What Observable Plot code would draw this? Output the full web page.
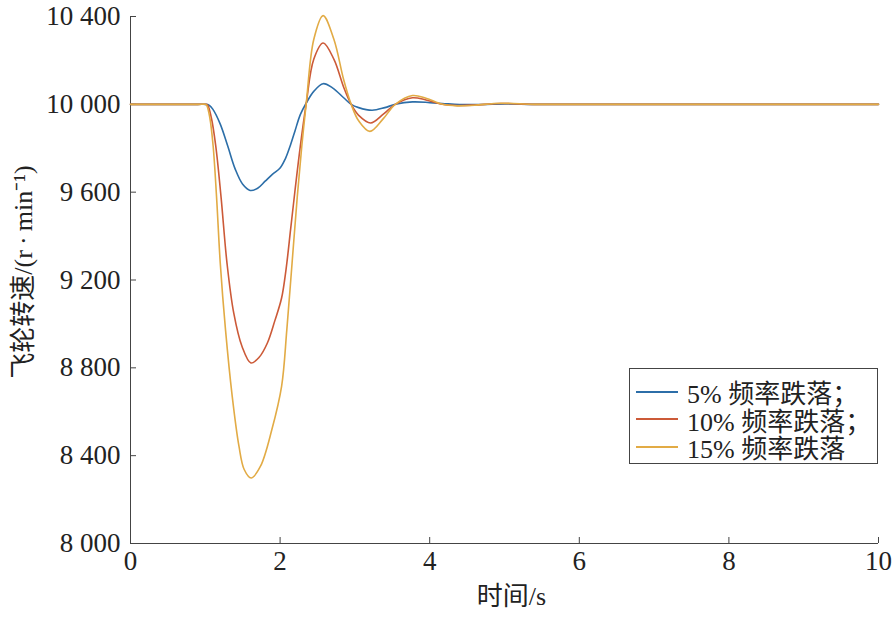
<!DOCTYPE html>
<html><head><meta charset="utf-8">
<script src="https://cdn.jsdelivr.net/npm/d3@7"></script>
<script src="https://cdn.jsdelivr.net/npm/@observablehq/plot@0.6"></script>
<style>
body{margin:0;background:#fff;}
#wrap{position:relative;width:894px;height:634px;}
.legend{position:absolute;left:629px;top:368px;width:249px;height:96px;border:1px solid #444;background:#fff;box-sizing:border-box;font-family:"Liberation Serif","Noto Sans CJK SC",serif;font-size:26px;color:#222;padding-top:9px;white-space:nowrap;}
.row{display:flex;align-items:center;height:27.5px;white-space:nowrap;}
.sw{width:42px;height:0;border-top:2.5px solid;margin-left:6px;margin-right:9px;flex:none;}
</style>
</head><body>
<div id="wrap"></div>
<script>
const seriesNames = ["5% 频率跌落；", "10% 频率跌落；", "15% 频率跌落"];
const seriesColors = ["#2c6ea8", "#cc5a38", "#e2ab45"];

const t5 = [0, 0.9, 1.0, 1.05, 1.1, 1.2, 1.3, 1.4, 1.5, 1.6, 1.7, 1.8, 1.9, 2.0, 2.07, 2.14, 2.2, 2.27, 2.35, 2.45, 2.575, 2.7, 2.85, 2.95, 3.05, 3.23, 3.4, 3.54, 3.77, 4.0, 4.2, 4.4, 4.7, 5.0, 5.4, 6, 10];
const v5 = [10000, 10000, 10000, 9996, 9978, 9910, 9810, 9705, 9636, 9608, 9618, 9650, 9682, 9710, 9752, 9816, 9880, 9953, 10006, 10059, 10094, 10075, 10030, 10000, 9985, 9973, 9985, 10000, 10011, 10008, 10003, 9999, 9999, 10002, 10000, 10000, 10000];

const t10 = [0, 0.9, 1.0, 1.03, 1.08, 1.14, 1.21, 1.29, 1.38, 1.49, 1.61, 1.72, 1.83, 1.93, 2.02, 2.08, 2.14, 2.2, 2.27, 2.35, 2.45, 2.575, 2.72, 2.85, 2.95, 3.05, 3.21, 3.38, 3.54, 3.77, 3.95, 4.17, 4.37, 4.6, 4.95, 5.4, 6, 10];
const v10 = [10000, 10000, 10000, 9997, 9940, 9810, 9580, 9277, 9050, 8898, 8822, 8848, 8913, 9015, 9118, 9250, 9429, 9610, 9809, 10005, 10205, 10279, 10205, 10078, 10000, 9950, 9915, 9955, 10000, 10030, 10020, 10000, 9995, 9997, 10004, 10000, 10000, 10000];

const t15 = [0, 0.9, 1.0, 1.02, 1.06, 1.105, 1.15, 1.2, 1.27, 1.36, 1.45, 1.52, 1.613, 1.738, 1.89, 2.02, 2.09, 2.16, 2.23, 2.29, 2.35, 2.45, 2.575, 2.72, 2.85, 2.95, 3.05, 3.2, 3.38, 3.54, 3.77, 3.95, 4.17, 4.37, 4.6, 4.95, 5.4, 6, 10];
const v15 = [10000, 10000, 10000, 9995, 9940, 9809, 9581, 9277, 8974, 8670, 8443, 8337, 8298, 8352, 8519, 8716, 8974, 9277, 9581, 9809, 10006, 10295, 10404, 10295, 10112, 10000, 9925, 9877, 9935, 10000, 10040, 10028, 10000, 9993, 9996, 10005, 10000, 10000, 10000];

const xTicks = [0, 2, 4, 6, 8, 10];
const yTicks = [8000, 8400, 8800, 9200, 9600, 10000, 10400];
const xLabel = "时间/s";
const yLabel = "飞轮转速/(r\u2009·\u2009min⁻¹)";

const tArr = [t5, t10, t15];
const vArr = [v5, v10, v15];
const rows = [];
tArr.forEach((ts, i) => ts.forEach((t, j) => rows.push({t, v: vArr[i][j], s: seriesNames[i]})));

const fmt = d => d3.format(",")(d).replace(/,/g, " ");

const chart = Plot.plot({
  width: 894, height: 634,
  marginLeft: 130, marginRight: 16, marginTop: 16, marginBottom: 91,
  style: {fontFamily: "'Liberation Serif','Noto Sans CJK SC',serif", fontSize: "27px", color: "#222", background: "#fff"},
  x: {domain: [0, 10]},
  y: {domain: [8000, 10400]},
  color: {domain: seriesNames, range: seriesColors},
  marks: [
    Plot.ruleX([0], {stroke: "#444"}),
    Plot.ruleY([8000], {stroke: "#444"}),
    Plot.axisX({ticks: xTicks, tickSize: -6, tickPadding: 13, tickFormat: d => String(d), label: null, stroke: "#444"}),
    Plot.axisY({ticks: yTicks, tickSize: -6, tickPadding: 16, tickFormat: fmt, label: null, stroke: "#444"}),
    Plot.line(rows, {x: "t", y: "v", z: "s", stroke: "s", strokeWidth: 1.6, curve: "catmull-rom"}),
    Plot.text([xLabel], {frameAnchor: "bottom", dy: 61, dx: 7, fontSize: 26, fill: "#222"}),
    Plot.text([yLabel], {frameAnchor: "left", textAnchor: "middle", lineAnchor: "middle", dx: -107, dy: -8, rotate: -90, fontSize: 26, fill: "#222"})
  ]
});
const wrap = document.getElementById("wrap");
wrap.appendChild(chart);

const lg = document.createElement("div");
lg.className = "legend";
seriesNames.forEach((n, i) => {
  const r = document.createElement("div"); r.className = "row";
  const s = document.createElement("div"); s.className = "sw"; s.style.borderColor = seriesColors[i];
  const tx = document.createElement("span"); tx.textContent = n;
  r.appendChild(s); r.appendChild(tx); lg.appendChild(r);
});
wrap.appendChild(lg);
</script>
</body></html>
